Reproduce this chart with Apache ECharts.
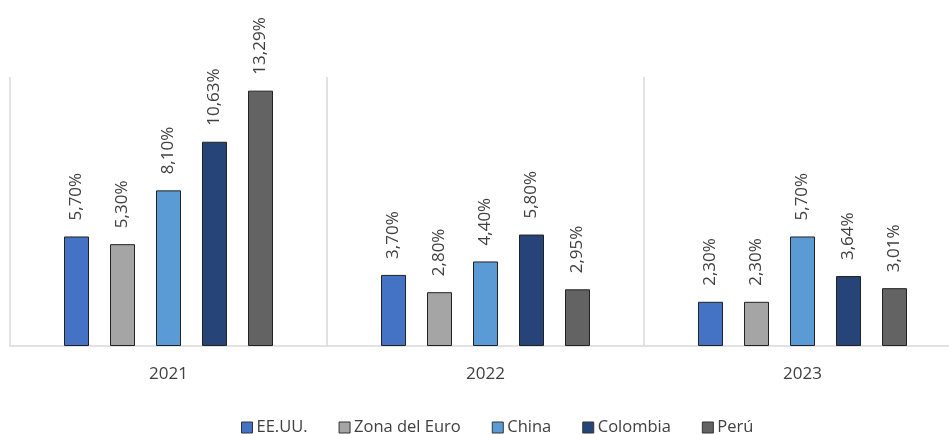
<!DOCTYPE html>
<html><head><meta charset="utf-8">
<script src="https://cdn.jsdelivr.net/npm/echarts@6/dist/echarts.min.js"></script>
<style>html,body{margin:0;padding:0;background:#fff;overflow:hidden;width:949px;height:434px}#c{width:961px;height:434px}</style>
</head><body><div id="c"></div>
<script>
const categories = ['2021', '2022', '2023'];
const seriesNames = ['EE.UU.', 'Zona del Euro', 'China', 'Colombia', 'Perú'];
const eeuu = [5.70, 3.70, 2.30];
const zonaEuro = [5.30, 2.80, 2.30];
const china = [8.10, 4.40, 5.70];
const colombia = [10.63, 5.80, 3.64];
const peru = [13.29, 2.95, 3.01];
const colors = ['#4472C4', '#A5A5A5', '#5B9BD5', '#264478', '#636363'];
const values = [eeuu, zonaEuro, china, colombia, peru];
const font = '"Open Sans", sans-serif';
const chart = echarts.init(document.getElementById('c'));
chart.setOption({
  animation: false,
  textStyle: {fontFamily: font},
  grid: {left: 10, right: 0, top: 77, bottom: 88, containLabel: false},
  legend: {
    top: 414, left: 236, itemWidth: 11, itemHeight: 11, itemGap: 31,
    icon: 'rect',
    textStyle: {fontSize: 16.5, color: '#404040', fontFamily: font, padding: [0,0,0,-1]},
    data: seriesNames.map((n, i) => ({name: n, itemStyle: {color: colors[i], borderColor: '#333', borderWidth: 1}}))
  },
  xAxis: {
    type: 'category', data: categories,
    axisLine: {lineStyle: {color: '#d9d9d9', width: 1.5}},
    axisTick: {show: false},
    splitLine: {show: true, lineStyle: {color: '#d9d9d9', width: 1.5}},
    axisLabel: {fontSize: 17, color: '#404040', margin: 20, fontFamily: font}
  },
  yAxis: {type: 'value', min: 0, max: 14, show: false, splitLine: {show: false}},
  series: seriesNames.map((n, i) => ({
    name: n, type: 'bar', data: values[i], barWidth: 25, barGap: '84%',
    itemStyle: {color: colors[i], borderColor: '#222', borderWidth: 1},
    label: {
      show: true, position: 'top', rotate: 90, distance: 16, align: 'left', verticalAlign: 'middle',
      fontSize: 17, color: '#404040', fontFamily: font,
      formatter: p => p.value.toFixed(2).replace('.', ',') + '%'
    }
  }))
});
</script></body></html>
